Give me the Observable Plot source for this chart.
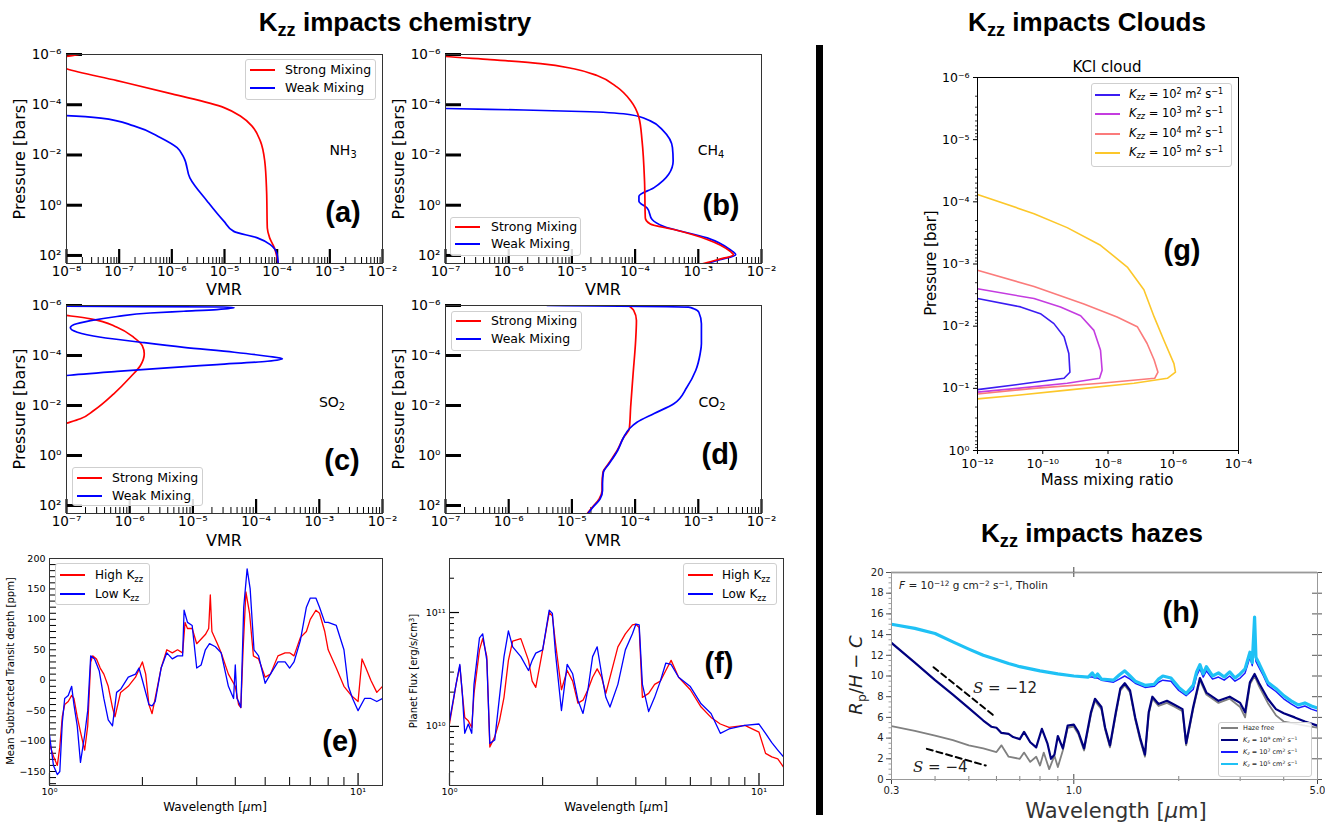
<!DOCTYPE html>
<html>
<head>
<meta charset="utf-8">
<script src="https://cdn.jsdelivr.net/npm/d3@7"></script>
<script src="https://cdn.jsdelivr.net/npm/@observablehq/plot@0.6"></script>
<style>
  html,body{margin:0;padding:0;background:#fff;}
  #root{position:relative;width:1325px;height:822px;overflow:hidden;background:#fff;}
  .t{position:absolute;white-space:nowrap;line-height:1;font-family:"DejaVu Sans",sans-serif;color:#000;}
  .t sub,.t sup{font-size:0.7em;line-height:0;position:relative;vertical-align:baseline;}
  .t sub{top:0.3em;}
  .t sup{top:-0.45em;}
  .box{position:absolute;box-sizing:border-box;border:1px solid #cfcfcf;border-radius:3px;background:rgba(255,255,255,0.85);}
</style>
</head>
<body>
<div id="root"></div>
<script>
// ================= DATA =================
// shared tick values
const vmrTicksA = [1e-8,1e-7,1e-6,1e-5,1e-4,1e-3,1e-2];
const vmrTicksB = [1e-7,1e-6,1e-5,1e-4,1e-3,1e-2];
const pressureTicks = [1e-6,1e-4,1e-2,1,100];
const pressureDomain = [1e-6, 209];
const mixingNames = ["Strong Mixing","Weak Mixing"];
const mixingColors = ["#ff0000","#0000ff"];

// (a) NH3 : pressure [bar], VMR
const nh3StrongP = [8e-7,1.0e-6,1.2e-6,2.0e-6,3.7e-6,1.1e-5,3.7e-5,1.3e-4,2.8e-4,6.9e-4,2.8e-3,1.7e-2,0.28,8.1,20,51,130,250];
const nh3StrongV = [2.3e-8,1.7e-8,1.0e-8,5e-9,1.0e-8,9.1e-8,1.0e-6,9.8e-6,2.0e-5,3.3e-5,4.8e-5,5.8e-5,6.3e-5,6.5e-5,7.2e-5,8.9e-5,1.0e-4,1.05e-4];
const nh3WeakP = [2.4e-4,2.7e-4,3.4e-4,6.9e-4,2.0e-3,5.1e-3,1.3e-2,8.1e-2,0.69,4.4,11,20,37,93,250];
const nh3WeakV = [2e-9,1.0e-8,4.5e-8,1.9e-7,6.0e-7,1.26e-6,1.7e-6,2.2e-6,4.7e-6,9.8e-6,1.5e-5,4.2e-5,7.4e-5,1.0e-4,1.05e-4];

// (b) CH4
const ch4StrongP = [9e-7,1.2e-6,1.6e-6,2.3e-6,3.7e-6,6.9e-6,2.0e-5,6.9e-5,3.2e-4,2.8e-3,0.11,3.2,5.6,9.3,23,69,93,148,224];
const ch4StrongV = [5e-8,1.0e-7,5.1e-7,3.2e-6,1.07e-5,2.5e-5,5.2e-5,8.5e-5,1.15e-4,1.29e-4,1.41e-4,1.45e-4,1.74e-4,4.1e-4,1.38e-3,3.2e-3,3.6e-3,2.0e-3,1.1e-3];
const ch4WeakP = [1.3e-4,1.41e-4,1.62e-4,1.9e-4,2.5e-4,4.4e-4,1.1e-3,5.1e-3,1.74e-2,5.9e-2,0.2,0.44,0.69,1.29,3.7,6.9,20,59,93,148,224];
const ch4WeakV = [5e-8,1.0e-7,1.74e-6,1.95e-5,8.5e-5,1.74e-4,2.8e-4,3.9e-4,4.0e-4,3.4e-4,2.0e-4,1.15e-4,1.15e-4,1.55e-4,1.86e-4,2.8e-4,1.38e-3,3.2e-3,3.9e-3,2.2e-3,1.23e-3];

// (c) SO2
const so2StrongP = [2.0e-6,2.5e-6,3.4e-6,7.4e-6,1.86e-5,4.0e-5,8.5e-5,2.5e-4,7.4e-4,3.4e-3,1.58e-2,3.4e-2,5.1e-2,0.1];
const so2StrongV = [5e-8,1.0e-7,2.4e-7,6.3e-7,1.15e-6,1.58e-6,1.7e-6,1.48e-6,1.02e-6,5.6e-7,2.7e-7,1.66e-7,1.0e-7,4e-8];
const so2WeakP = [1.0e-6,1.07e-6,1.15e-6,1.23e-6,1.45e-6,1.7e-6,2.0e-6,2.75e-6,4.0e-6,5.8e-6,7.8e-6,1.17e-5,1.86e-5,2.95e-5,4.7e-5,7.4e-5,1.07e-4,1.35e-4,1.7e-4,2.3e-4,3.1e-4,4.3e-4,6.3e-4,1.0e-3];
const so2WeakV = [3e-8,1.0e-7,3.0e-5,4.5e-5,2.4e-5,7.2e-6,2.1e-6,6.3e-7,2.4e-7,1.32e-7,1.15e-7,1.48e-7,3.5e-7,1.48e-6,7.2e-6,4.5e-5,1.51e-4,2.6e-4,1.51e-4,2.4e-5,3.9e-6,6.3e-7,1.0e-7,3e-8];

// (d) CO2
const co2StrongP = [1.0e-6,1.58e-6,4.0e-6,2.5e-5,5.4e-4,1.17e-2,8.5e-2,0.186,0.63,2.1,4.7,13.5,25,54,117,214];
const co2StrongV = [7.9e-5,9.5e-5,1.05e-4,1.02e-4,9.3e-5,8.5e-5,8.1e-5,6.6e-5,5.2e-5,3.8e-5,3.1e-5,3.0e-5,3.0e-5,2.7e-5,2.1e-5,1.74e-5];
const co2WeakP = [1.0e-6,1.17e-6,1.35e-6,1.86e-6,5.4e-6,3.4e-5,8.5e-5,4.0e-4,1.86e-3,8.5e-3,2.1e-2,4.7e-2,8.5e-2,0.186,0.63,2.1,4.7,13.5,25,54,117,214];
const co2WeakV = [4.1e-6,7.0e-4,8.5e-4,1.02e-3,1.12e-3,1.12e-3,1.07e-3,9.1e-4,6.6e-4,4.1e-4,2.0e-4,1.07e-4,8.1e-5,6.6e-5,5.3e-5,3.9e-5,3.15e-5,3.05e-5,3.05e-5,2.8e-5,2.15e-5,1.78e-5];

// (e) transit depth [ppm] vs wavelength [um]
const kzzNames = ["High K<sub>zz</sub>","Low K<sub>zz</sub>"];
const transitHighL = [1.0,1.03,1.06,1.08,1.1,1.12,1.15,1.18,1.2,1.23,1.26,1.3,1.33,1.36,1.38,1.42,1.46,1.5,1.55,1.6,1.63,1.7,1.8,1.9,2.0,2.05,2.1,2.15,2.2,2.3,2.4,2.5,2.6,2.7,2.75,2.8,2.9,3.0,3.2,3.28,3.32,3.36,3.5,3.6,3.8,4.0,4.1,4.17,4.24,4.33,4.45,4.58,4.76,5.0,5.2,5.5,5.8,6.0,6.2,6.5,6.8,7.0,7.3,7.5,7.8,8.0,8.5,9.0,9.5,10,10.3,10.6,11,11.5,12];
const transitHighV = [-105,-125,-140,-110,-60,-40,-35,-25,-30,-60,-85,-115,-75,30,40,35,20,10,-10,-45,-60,-20,-10,5,30,10,-40,-55,-30,20,50,45,50,45,95,85,85,60,75,85,140,80,60,45,10,-10,-40,-45,50,145,110,40,35,5,10,40,45,45,40,70,80,100,115,110,80,50,20,-10,-25,-35,35,20,0,-20,-10];
const transitLowL = [1.0,1.03,1.06,1.08,1.1,1.12,1.15,1.18,1.2,1.23,1.26,1.3,1.33,1.36,1.4,1.45,1.5,1.55,1.6,1.65,1.7,1.8,1.9,1.95,2.0,2.1,2.15,2.2,2.3,2.4,2.5,2.6,2.7,2.73,2.8,2.9,3.0,3.1,3.2,3.3,3.45,3.6,3.8,3.95,4.0,4.05,4.1,4.17,4.26,4.37,4.47,4.6,4.76,5.0,5.2,5.5,5.8,6.0,6.2,6.5,6.8,7.0,7.3,7.5,7.8,8.0,8.5,9.0,9.3,9.6,10,10.5,11,11.5,12];
const transitLowV = [-90,-140,-155,-150,-70,-30,-25,-10,-40,-75,-135,-90,-50,40,35,15,-30,-65,-75,-20,-15,5,10,20,0,-40,-42,-35,20,45,35,40,40,115,95,90,20,25,50,60,55,45,-10,-30,25,-30,-35,-45,120,183,150,50,40,-5,10,30,30,20,30,65,120,135,135,120,95,95,90,50,-10,-30,-50,-30,-30,-35,-30];
const transitTicks = [-150,-100,-50,0,50,100,150,200];

// (f) planet flux [erg/s/cm^3]
const fluxL = [1.0,1.05,1.08,1.1,1.12,1.15,1.18,1.2,1.25,1.28,1.32,1.35,1.4,1.45,1.5,1.55,1.6,1.7,1.8,1.85,1.9,2.0,2.1,2.15,2.2,2.3,2.4,2.5,2.6,2.7,2.8,2.9,3.0,3.1,3.2,3.3,3.5,3.7,3.9,4.0,4.1,4.2,4.4,4.6,4.8,5.0,5.2,5.5,6.0,6.5,7.0,7.5,8.0,9.0,10,10.5,11,11.5,12];
const fluxHigh = [1.05e10,2.34e10,3.4e10,1.95e10,1.2e10,1.12e10,9.8e9,1.95e10,4.7e10,5.9e10,4.1e10,6.6e9,8.1e9,1.12e10,1.8e10,3.8e10,5.6e10,5.9e10,3.8e10,2.5e10,2.2e10,4.7e10,1.0e11,9.3e10,5.4e10,2.1e10,3.1e10,2.5e10,1.6e10,1.7e10,2.1e10,2.7e10,3.2e10,2.7e10,1.95e10,2.7e10,5.0e10,6.5e10,7.8e10,7.9e10,7.4e10,1.8e10,1.95e10,2.34e10,2.5e10,3.1e10,3.8e10,2.7e10,2.1e10,1.48e10,1.2e10,1.05e10,9.8e9,1.02e10,8.9e9,5.8e9,5.4e9,5.2e9,4.4e9];
const fluxLow = [1.12e10,2.34e10,3.5e10,1.95e10,8.7e9,1.05e10,8.7e9,2.34e10,6.0e10,6.5e10,3.8e10,7.1e9,7.6e9,1.8e10,4.1e10,6.9e10,5.0e10,4.1e10,3.1e10,3.8e10,4.4e10,4.7e10,1.05e11,9.8e10,4.4e10,1.38e10,3.5e10,2.9e10,1.7e10,1.3e10,2.1e10,4.1e10,5.0e10,2.9e10,1.8e10,1.48e10,2.34e10,4.7e10,6.5e10,7.9e10,7.8e10,2.34e10,1.35e10,1.8e10,2.5e10,3.6e10,3.5e10,2.7e10,2.24e10,1.58e10,1.3e10,8.7e9,9.5e9,1.02e10,1.05e10,8.7e9,7.2e9,6.2e9,5.4e9];

// (g) KCl cloud: mass mixing ratio, pressure [bar]
const cloudKzzExp = [2,3,4,5];
const cloudColors = ["#3b1cf2","#c43ce0","#fb7b7b","#fcc72a"];
const cloudK2Mmr = [1e-12,2.1e-11,8.5e-11,2.2e-10,4.5e-10,6.3e-10,6.8e-10,4.5e-10,3.3e-11,1e-12];
const cloudK2P = [3.6e-3,4.9e-3,6.3e-3,9.1e-3,1.48e-2,2.75e-2,5.5e-2,6.9e-2,8.3e-2,0.105];
const cloudK3Mmr = [1e-12,5.4e-11,3.5e-10,1.45e-9,3.7e-9,5.9e-9,6.6e-9,5.5e-9,5.6e-10,1.66e-11,1e-12];
const cloudK3P = [2.5e-3,3.6e-3,4.9e-3,6.8e-3,1.17e-2,2.45e-2,5.1e-2,6.9e-2,8.3e-2,0.1,0.115];
const cloudK4Mmr = [1e-12,5.4e-11,1.82e-9,1.9e-8,7.9e-8,1.58e-7,2.6e-7,3.4e-7,2.7e-7,5.9e-9,5.4e-11,1e-12];
const cloudK4P = [1.26e-3,2.3e-3,4.4e-3,7.1e-3,1.02e-2,1.9e-2,3.5e-2,5.5e-2,6.9e-2,8.3e-2,0.1,0.123];
const cloudK5Mmr = [1e-12,5.4e-11,5.6e-10,5.9e-9,3.9e-8,1.26e-7,2.6e-7,5.2e-7,1.05e-6,1.17e-6,6.6e-7,6.3e-8,5.6e-10,1.66e-11,1e-12];
const cloudK5P = [7.6e-5,1.55e-4,2.6e-4,5.0e-4,1.12e-3,2.6e-3,7.1e-3,1.7e-2,4.0e-2,5.5e-2,6.9e-2,8.3e-2,0.107,0.129,0.148];
const cloudXTicks = [1e-12,1e-10,1e-8,1e-6,1e-4];
const cloudYTicks = [1e-6,1e-5,1e-4,1e-3,1e-2,1e-1,1];

// (h) hazes: Rp/H - C vs wavelength [um]
const hazeNames = ["Haze free","<i>K</i><sub><i>z</i></sub> = 10<sup>9</sup> cm<sup>2</sup> s<sup>−1</sup>","<i>K</i><sub><i>z</i></sub> = 10<sup>7</sup> cm<sup>2</sup> s<sup>−1</sup>","<i>K</i><sub><i>z</i></sub> = 10<sup>5</sup> cm<sup>2</sup> s<sup>−1</sup>"];
const hazeColors = ["#808080","#00007f","#1a1aff","#1fc1f5"];
const hazeFreeL = [0.3,0.35,0.4,0.45,0.5,0.55,0.6,0.62,0.65,0.7,0.72,0.75,0.78,0.8,0.82,0.85,0.88,0.9,0.93,0.96,1.0,1.03,1.07,1.12,1.15,1.2,1.23,1.27,1.32,1.36,1.4,1.45,1.5,1.55,1.6,1.64,1.68,1.75,1.85,1.95,2.05,2.1,2.2,2.3,2.4,2.6,2.8,3.0,3.1,3.2,3.3,3.4,3.6,3.8,4.0,4.3,4.6,5.0];
const hazeFreeV = [5.15,4.7,4.25,3.8,3.3,3.0,2.65,3.3,2.2,2.0,2.6,1.7,2.2,1.35,2.6,1.0,2.3,1.2,2.8,5.0,5.1,4.4,2.8,6.3,7.6,6.8,4.8,3.1,6.3,8.6,9.1,8.4,5.8,3.8,2.2,6.3,7.8,7.1,7.4,7.0,6.6,3.3,6.8,9.6,8.2,7.4,7.8,7.0,6.0,9.2,10.0,9.0,7.4,6.2,5.6,5.4,5.2,5.0];
const haze9L = [0.3,0.35,0.4,0.45,0.5,0.55,0.58,0.6,0.62,0.65,0.67,0.7,0.72,0.75,0.78,0.81,0.84,0.86,0.88,0.9,0.93,0.96,1.0,1.03,1.07,1.12,1.15,1.2,1.23,1.27,1.32,1.36,1.4,1.45,1.5,1.55,1.6,1.64,1.68,1.75,1.85,1.95,2.05,2.1,2.2,2.3,2.4,2.6,2.8,3.0,3.1,3.2,3.3,3.4,3.6,3.8,4.0,4.3,4.6,5.0];
const haze9V = [13.2,11.3,9.6,8.2,6.9,5.7,5.1,5.0,4.5,4.4,4.1,3.9,4.6,3.6,3.1,4.9,3.5,2.0,2.4,4.2,3.0,5.2,5.3,4.6,3.0,6.5,7.8,7.0,5.0,3.3,6.5,8.8,9.3,8.6,6.0,4.0,2.4,6.5,8.0,7.3,7.6,7.2,6.8,3.5,7.0,9.8,8.4,7.6,8.0,7.4,6.5,9.4,10.2,9.3,7.8,6.8,6.4,6.0,5.6,5.2];
const haze5L = [0.3,0.35,0.4,0.45,0.5,0.55,0.6,0.65,0.7,0.8,0.9,1.0,1.1,1.13,1.15,1.17,1.2,1.3,1.35,1.4,1.45,1.5,1.6,1.7,1.75,1.8,1.9,2.0,2.1,2.2,2.25,2.3,2.35,2.4,2.5,2.6,2.7,2.8,2.9,3.0,3.1,3.2,3.25,3.3,3.33,3.4,3.5,3.6,3.8,4.0,4.2,4.4,4.6,4.8,5.0];
const haze5V = [15.0,14.6,14.1,13.3,12.6,12.0,11.6,11.2,10.9,10.5,10.2,10.0,9.9,10.3,9.9,10.2,9.7,9.6,10.1,10.5,10.0,9.5,9.1,9.2,9.7,10.0,9.8,8.9,8.3,9.1,10.4,11.1,10.2,10.9,10.0,10.3,9.9,10.4,9.8,10.2,10.7,12.3,11.3,15.7,11.8,11.2,10.3,9.4,8.8,8.1,7.6,7.2,7.4,7.1,6.9];
const haze7L = [0.3,0.35,0.4,0.45,0.5,0.55,0.6,0.65,0.7,0.8,0.9,1.0,1.1,1.13,1.15,1.17,1.2,1.3,1.35,1.4,1.45,1.5,1.6,1.7,1.75,1.8,1.9,2.0,2.1,2.2,2.25,2.3,2.35,2.4,2.5,2.6,2.7,2.8,2.9,3.0,3.1,3.2,3.25,3.3,3.33,3.4,3.5,3.6,3.8,4.0,4.2,4.4,4.6,4.8,5.0];
const haze7V = [15.0,14.6,14.1,13.3,12.6,12.0,11.6,11.2,10.9,10.5,10.2,10.0,9.9,9.9,9.8,9.8,9.6,9.4,9.7,10.0,9.7,9.3,8.9,9.0,9.4,9.6,9.5,8.6,8.1,8.7,10.0,10.7,9.9,10.5,9.7,9.9,9.6,10.0,9.5,9.8,10.3,11.8,11.0,14.5,11.4,10.8,10.0,9.1,8.5,7.8,7.3,6.9,7.1,6.8,6.6];
const slopeSteepL = [0.396,0.597], slopeSteepV = [10.85,6.02];
const slopeShallowL = [0.379,0.559], slopeShallowV = [2.96,1.35];
const hazeYTicks = [0,2,4,6,8,10,12,14,16,18,20];
const hazeXTicks = [0.3,1.0,5.0];

// ================= HELPERS =================
const root = document.getElementById("root");
const supD = {"0":"⁰","1":"¹","2":"²","3":"³","4":"⁴","5":"⁵","6":"⁶","7":"⁷","8":"⁸","9":"⁹","-":"⁻"};
const pow10 = d => "10" + String(Math.round(Math.log10(d))).split("").map(c => supD[c]).join("");
const minus = d => d < 0 ? "−" + Math.abs(d) : String(d);
const pv = (ps, vs) => ps.map((p, i) => ({p, v: vs[i]}));
const xy = (xs, ys) => xs.map((x, i) => ({x, y: ys[i]}));
const minorLog = majors => { const a = []; for (let i = 0; i < majors.length - 1; i++) for (let k = 2; k < 10; k++) a.push(k * majors[i]); return a; };

function put(svg, left, top) {
  svg.style.position = "absolute"; svg.style.left = left + "px"; svg.style.top = top + "px";
  svg.style.overflow = "visible"; svg.style.maxWidth = "none";
  root.appendChild(svg);
}
function makePlot(frame, m, x, y, marks) {
  const [x0, y0, x1, y1] = frame;
  const svg = Plot.plot({
    width: x1 - x0 + m.l + m.r, height: y1 - y0 + m.t + m.b,
    marginTop: m.t, marginRight: m.r, marginBottom: m.b, marginLeft: m.l,
    x, y, marks,
    style: {background: "transparent", fontFamily: "DejaVu Sans, sans-serif", fontSize: "12px", color: "#000"}
  });
  put(svg, x0 - m.l, y0 - m.t);
}
function txt(html, x, y, o = {}) {
  const d = document.createElement("div");
  d.className = "t"; d.innerHTML = html;
  d.style.fontSize = (o.size || 14) + "px";
  if (o.weight) d.style.fontWeight = o.weight;
  if (o.family) d.style.fontFamily = o.family;
  if (o.color) d.style.color = o.color;
  d.style.left = x + "px"; d.style.top = y + "px";
  const tx = o.anchor === "start" ? "0" : o.anchor === "end" ? "-100%" : "-50%";
  d.style.transform = `translate(${tx},-50%)` + (o.rotate ? ` rotate(${o.rotate}deg)` : "");
  root.appendChild(d);
}
function legend(b, rows, o) {
  const box = document.createElement("div");
  box.className = "box";
  Object.assign(box.style, {left: b[0] + "px", top: b[1] + "px", width: b[2] + "px", height: b[3] + "px"});
  root.appendChild(box);
  rows.forEach(r => {
    const s = document.createElement("div");
    Object.assign(s.style, {position: "absolute", left: o.lineLeft + "px", top: (r.y - o.lw / 2) + "px", width: o.lineLen + "px", height: o.lw + "px", background: r.color});
    root.appendChild(s);
    txt(r.html, o.textLeft, r.y, {size: o.size, anchor: "start", color: o.color});
  });
}

// ================= PANELS (a)-(d) =================
function chemPanel(frame, vmrTicks, series) {
  const fw = frame[2] - frame[0], fh = frame[3] - frame[1];
  makePlot(frame, {t: 12, r: 12, b: 24, l: 60},
    {type: "log", domain: [vmrTicks[0], vmrTicks[vmrTicks.length - 1]]},
    {type: "log", domain: pressureDomain, reverse: true},
    [
      Plot.tickX(minorLog(vmrTicks), {x: d => d, insetTop: fh - 6, stroke: "#000", strokeWidth: 1}),
      Plot.tickX(vmrTicks, {x: d => d, insetTop: fh - 14, stroke: "#000", strokeWidth: 2.2}),
      Plot.tickY(pressureTicks, {y: d => d, insetRight: fw - 16, stroke: "#000", strokeWidth: 3}),
      ...series.map(s => Plot.line(pv(s.p, s.v), {x: "v", y: "p", stroke: s.color, strokeWidth: 1.7, curve: "monotone-y", clip: true})),
      Plot.frame({stroke: "#333", strokeWidth: 1}),
      Plot.axisX({ticks: vmrTicks, tickFormat: pow10, tickSize: 0, tickPadding: 3, fontSize: 13.5, label: null}),
      Plot.axisY({ticks: pressureTicks, tickFormat: pow10, tickSize: 0, tickPadding: 5, fontSize: 13.5, label: null})
    ]);
}
chemPanel([66, 54, 382, 263], vmrTicksA, [
  {p: nh3StrongP, v: nh3StrongV, color: mixingColors[0]},
  {p: nh3WeakP, v: nh3WeakV, color: mixingColors[1]}]);
chemPanel([445, 54, 761, 263], vmrTicksB, [
  {p: ch4WeakP, v: ch4WeakV, color: mixingColors[1]},
  {p: ch4StrongP, v: ch4StrongV, color: mixingColors[0]}]);
chemPanel([66, 305, 382, 513], vmrTicksB, [
  {p: so2StrongP, v: so2StrongV, color: mixingColors[0]},
  {p: so2WeakP, v: so2WeakV, color: mixingColors[1]}]);
chemPanel([445, 305, 761, 513], vmrTicksB, [
  {p: co2StrongP, v: co2StrongV, color: mixingColors[0]},
  {p: co2WeakP, v: co2WeakV, color: mixingColors[1]}]);

// ================= PANEL (e) =================
{
  const frame = [49, 558, 382, 785], fw = 333, fh = 227;
  makePlot(frame, {t: 8, r: 10, b: 20, l: 45},
    {type: "log", domain: [1, 12]},
    {type: "linear", domain: [-173, 200]},
    [
      Plot.tickY(d3.range(-170, 201, 10), {y: d => d, insetRight: fw - 7, stroke: "#000", strokeWidth: 1}),
      Plot.tickX([2,3,4,5,6,7,8,9], {x: d => d, insetTop: fh - 8, stroke: "#000", strokeWidth: 1}),
      Plot.tickX([1, 10], {x: d => d, insetTop: fh - 12, stroke: "#000", strokeWidth: 1.2}),
      Plot.line(xy(transitHighL, transitHighV), {x: "x", y: "y", stroke: mixingColors[0], strokeWidth: 1.3, clip: true}),
      Plot.line(xy(transitLowL, transitLowV), {x: "x", y: "y", stroke: mixingColors[1], strokeWidth: 1.3, clip: true}),
      Plot.frame({stroke: "#333"}),
      Plot.axisY({ticks: transitTicks, tickFormat: minus, tickSize: 0, tickPadding: 4, fontSize: 9.5, label: null}),
      Plot.axisX({ticks: [1, 10], tickFormat: pow10, tickSize: 0, tickPadding: 3, fontSize: 9.5, label: null})
    ]);
}

// ================= PANEL (f) =================
{
  const frame = [449, 558, 783, 785], fw = 334, fh = 227;
  makePlot(frame, {t: 8, r: 10, b: 20, l: 40},
    {type: "log", domain: [1, 12]},
    {type: "log", domain: [3.03e9, 2.98e11]},
    [
      Plot.tickY([4e9,5e9,6e9,7e9,8e9,9e9,2e10,3e10,4e10,5e10,6e10,7e10,8e10,9e10,2e11], {y: d => d, insetRight: fw - 5, stroke: "#000", strokeWidth: 1}),
      Plot.tickY([1e10, 1e11], {y: d => d, insetRight: fw - 10, stroke: "#000", strokeWidth: 1.2}),
      Plot.tickX([2,3,4,5,6,7,8,9], {x: d => d, insetTop: fh - 8, stroke: "#000", strokeWidth: 1}),
      Plot.tickX([1, 10], {x: d => d, insetTop: fh - 12, stroke: "#000", strokeWidth: 1.2}),
      Plot.line(xy(fluxL, fluxHigh), {x: "x", y: "y", stroke: mixingColors[0], strokeWidth: 1.3, clip: true}),
      Plot.line(xy(fluxL, fluxLow), {x: "x", y: "y", stroke: mixingColors[1], strokeWidth: 1.3, clip: true}),
      Plot.frame({stroke: "#333"}),
      Plot.axisY({ticks: [1e10, 1e11], tickFormat: pow10, tickSize: 0, tickPadding: 4, fontSize: 9.5, label: null}),
      Plot.axisX({ticks: [1, 10], tickFormat: pow10, tickSize: 0, tickPadding: 3, fontSize: 9.5, label: null})
    ]);
}

// ================= PANEL (g) =================
{
  const frame = [977, 77, 1238, 450], fw = 261, fh = 373;
  const cloudSeries = [[cloudK2Mmr, cloudK2P], [cloudK3Mmr, cloudK3P], [cloudK4Mmr, cloudK4P], [cloudK5Mmr, cloudK5P]];
  makePlot(frame, {t: 10, r: 10, b: 26, l: 48},
    {type: "log", domain: [1e-12, 1e-4]},
    {type: "log", domain: [1e-6, 1], reverse: true},
    [
      Plot.tickY(minorLog(cloudYTicks), {y: d => d, insetLeft: -2, insetRight: fw, stroke: "#000", strokeWidth: 0.8}),
      Plot.tickY(cloudYTicks, {y: d => d, insetLeft: -4, insetRight: fw, stroke: "#000", strokeWidth: 1}),
      Plot.tickX(cloudXTicks, {x: d => d, insetTop: fh, insetBottom: -4, stroke: "#000", strokeWidth: 1}),
      ...cloudSeries.map((s, i) => Plot.line(xy(s[0], s[1]), {x: "x", y: "y", stroke: cloudColors[i], strokeWidth: 1.6, clip: true})),
      Plot.frame({stroke: "#000", strokeWidth: 1}),
      Plot.axisY({ticks: cloudYTicks, tickFormat: pow10, tickSize: 0, tickPadding: 8, fontSize: 12.5, label: null}),
      Plot.axisX({ticks: cloudXTicks, tickFormat: pow10, tickSize: 0, tickPadding: 9, fontSize: 12.5, label: null})
    ]);
}

// ================= PANEL (h) =================
{
  const frame = [891, 572, 1317, 779], fw = 426, fh = 207;
  makePlot(frame, {t: 8, r: 10, b: 22, l: 30},
    {type: "log", domain: [0.3, 5.0]},
    {type: "linear", domain: [0, 20]},
    [
      Plot.ruleY([20], {stroke: "#c8c8c8", strokeWidth: 2.5}),
      Plot.tickY(d3.range(0, 20.01, 0.5), {y: d => d, insetLeft: -2.5, insetRight: fw, stroke: "#888", strokeWidth: 0.8}),
      Plot.tickY(hazeYTicks, {y: d => d, insetLeft: -5, insetRight: fw, stroke: "#555", strokeWidth: 1}),
      Plot.tickY(hazeYTicks, {y: d => d, insetLeft: fw - 5, insetRight: -5, stroke: "#555", strokeWidth: 1}),
      Plot.tickX([0.4,0.5,0.6,0.7,0.8,0.9,2,3,4], {x: d => d, insetTop: fh - 3, insetBottom: -2, stroke: "#666", strokeWidth: 0.8}),
      Plot.tickX(hazeXTicks, {x: d => d, insetTop: fh - 5, insetBottom: -5, stroke: "#444", strokeWidth: 1}),
      Plot.tickX([1.0], {x: d => d, insetBottom: fh - 5, insetTop: -5, stroke: "#444", strokeWidth: 1}),
      Plot.line(xy(hazeFreeL, hazeFreeV), {x: "x", y: "y", stroke: hazeColors[0], strokeWidth: 1.8, clip: true}),
      Plot.line(xy(haze9L, haze9V), {x: "x", y: "y", stroke: hazeColors[1], strokeWidth: 2.2, clip: true}),
      Plot.line(xy(haze7L, haze7V), {x: "x", y: "y", stroke: hazeColors[2], strokeWidth: 1.5, clip: true}),
      Plot.line(xy(haze5L, haze5V), {x: "x", y: "y", stroke: hazeColors[3], strokeWidth: 3.2, clip: true}),
      Plot.line(xy(slopeSteepL, slopeSteepV), {x: "x", y: "y", stroke: "#000", strokeWidth: 2, strokeDasharray: "6,4"}),
      Plot.line(xy(slopeShallowL, slopeShallowV), {x: "x", y: "y", stroke: "#000", strokeWidth: 2, strokeDasharray: "6,4"}),
      Plot.frame({stroke: "#999", strokeWidth: 1}),
      Plot.axisY({ticks: hazeYTicks, tickFormat: d => String(d), tickSize: 0, tickPadding: 8, fontSize: 10, fill: "#222", label: null}),
      Plot.axisX({ticks: hazeXTicks, tickFormat: d => d.toFixed(1), tickSize: 0, tickPadding: 7, fontSize: 10, fill: "#222", label: null})
    ]);
}

// ================= TEXT / ANNOTATIONS =================
const titleFont = {size: 26, weight: "bold", family: "Liberation Sans, Arial, sans-serif"};
txt("K<sub>zz</sub> impacts chemistry", 395, 22, titleFont);
txt("K<sub>zz</sub> impacts Clouds", 1087, 22, titleFont);
txt("K<sub>zz</sub> impacts hazes", 1092, 533, titleFont);

const divider = document.createElement("div");
Object.assign(divider.style, {position: "absolute", left: "816px", top: "45px", width: "7px", height: "770px", background: "#000"});
root.appendChild(divider);

const letterFont = {size: 29, weight: "bold", family: "Liberation Sans, Arial, sans-serif"};
[["(a)",343,212],["(b)",721,205],["(c)",342,460],["(d)",720,454],["(e)",340,741],["(f)",719,663],["(g)",1182,250],["(h)",1181,612]]
  .forEach(([s, x, y]) => txt(s, x, y, letterFont));

// axis titles (a)-(d)
[[20,159],[399,159],[20,409],[399,409]].forEach(([x,y]) => txt("Pressure [bars]", x, y, {size: 16, rotate: -90}));
[[224,290],[603,290],[224,541],[603,541]].forEach(([x,y]) => txt("VMR", x, y, {size: 16}));
txt("NH<sub>3</sub>", 343, 150, {size: 14});
txt("CH<sub>4</sub>", 711, 150, {size: 14});
txt("SO<sub>2</sub>", 332, 402, {size: 14});
txt("CO<sub>2</sub>", 712, 402, {size: 14});

// legends (a)-(d)
const mixRows = (y1, y2) => [{html: mixingNames[0], color: mixingColors[0], y: y1}, {html: mixingNames[1], color: mixingColors[1], y: y2}];
legend([245, 59, 131, 41], mixRows(70, 88), {lineLeft: 250, lineLen: 25, textLeft: 285, size: 12.5, lw: 1.7});
legend([450, 217, 131, 39], mixRows(227, 244), {lineLeft: 455, lineLen: 25, textLeft: 491, size: 12.5, lw: 1.7});
legend([72, 467, 131, 39], mixRows(478, 496), {lineLeft: 77, lineLen: 25, textLeft: 112, size: 12.5, lw: 1.7});
legend([451, 311, 131, 40], mixRows(321, 339), {lineLeft: 456, lineLen: 25, textLeft: 491, size: 12.5, lw: 1.7});

// (e),(f)
txt("Mean Subtracted Transit depth [ppm]", 11, 671, {size: 10, rotate: -90});
txt("Wavelength [<i>μ</i>m]", 215, 807, {size: 12});
txt("Planet Flux [erg/s/cm<sup>3</sup>]", 414, 671, {size: 10, rotate: -90});
txt("Wavelength [<i>μ</i>m]", 616, 807, {size: 12});
const kzzRows = (y1, y2) => [{html: kzzNames[0], color: mixingColors[0], y: y1}, {html: kzzNames[1], color: mixingColors[1], y: y2}];
legend([55, 563, 95, 42], kzzRows(575, 594), {lineLeft: 60, lineLen: 25, textLeft: 95, size: 12, lw: 1.5});
legend([683, 563, 94, 42], kzzRows(575, 594), {lineLeft: 688, lineLen: 25, textLeft: 722, size: 12, lw: 1.5});

// (g)
txt("KCl cloud", 1107, 67, {size: 15});
txt("Pressure [bar]", 931, 263, {size: 15, rotate: -90});
txt("Mass mixing ratio", 1107, 480, {size: 15});
legend([1091, 83, 141, 84],
  cloudKzzExp.map((e, i) => ({html: `<i>K</i><sub><i>zz</i></sub> = 10<sup>${e}</sup> m<sup>2</sup> s<sup>−1</sup>`, color: cloudColors[i], y: [95,114,134,153][i]})),
  {lineLeft: 1095, lineLen: 25, textLeft: 1129, size: 11.5, lw: 1.8});

// (h)
txt("<i>R</i><sub>p</sub>/<i>H</i> − <i>C</i>", 856, 675, {size: 18, rotate: -90, color: "#222"});
txt("Wavelength [<i>μ</i>m]", 1116, 811, {size: 21, color: "#333"});
txt("<i>F</i> = 10<sup>−12</sup> g cm<sup>−2</sup> s<sup>−1</sup>, Tholin", 899, 585, {size: 10.5, anchor: "start", color: "#222"});
txt('<span style="font-family:DejaVu Serif;font-style:italic">S</span> = −12', 973, 688, {size: 15, anchor: "start", color: "#222"});
txt('<span style="font-family:DejaVu Serif;font-style:italic">S</span> = −4', 913, 767, {size: 15, anchor: "start", color: "#222"});
legend([1218, 722, 94, 55],
  hazeNames.map((h, i) => ({html: h, color: hazeColors[i], y: [728,740,752,764][i]})),
  {lineLeft: 1221, lineLen: 17, textLeft: 1243, size: 6.5, lw: 2, color: "#222"});
</script>
</body>
</html>
